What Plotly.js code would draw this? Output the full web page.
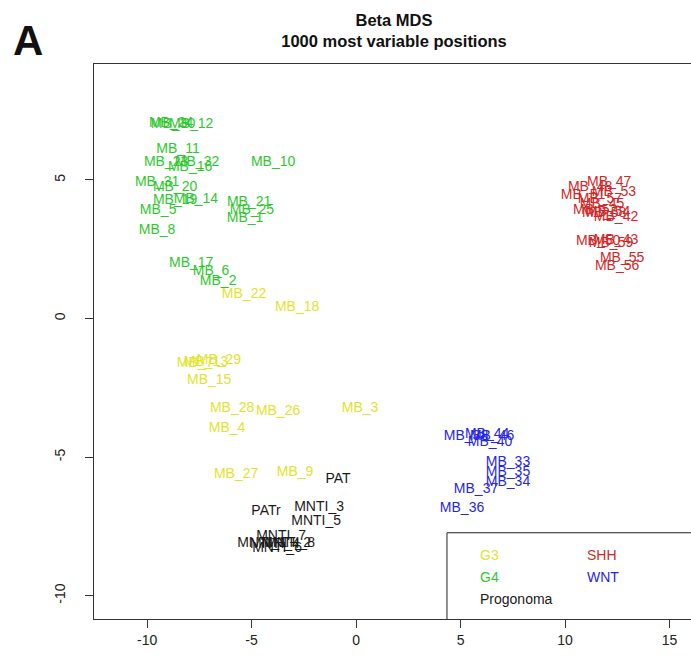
<!DOCTYPE html>
<html>
<head>
<meta charset="utf-8">
<script src="https://cdn.plot.ly/plotly-3.0.1.min.js"></script>
<style>
html, body { margin: 0; padding: 0; overflow: hidden; background: #fff; }
#chart { width: 700px; height: 655px; }
</style>
</head>
<body>
<div id="chart"></div>
<script>
// G4 (green)
const g4Labels = ["MB_24","MB_30","MB_12","MB_11","MB_23","MB_32","MB_16","MB_31","MB_20","MB_19","MB_14","MB_5","MB_8","MB_10","MB_21","MB_25","MB_1","MB_17","MB_6","MB_2"];
const g4X = [-8.85,-8.76,-7.89,-8.52,-9.09,-7.61,-7.94,-9.52,-8.66,-8.66,-7.66,-9.47,-9.52,-3.97,-5.12,-4.98,-5.31,-7.89,-6.94,-6.60];
const g4Y = [7.05,7.01,7.01,6.08,5.61,5.61,5.43,4.92,4.74,4.27,4.31,3.91,3.19,5.64,4.20,3.91,3.62,2.00,1.68,1.32];

// G3 (yellow)
const g3Labels = ["MB_22","MB_18","MB_7","MB_13","MB_29","MB_15","MB_28","MB_26","MB_3","MB_4","MB_27","MB_9"];
const g3X = [-5.36,-2.82,-7.70,-7.18,-6.56,-7.03,-5.93,-3.73,0.19,-6.17,-5.74,-2.92];
const g3Y = [0.85,0.41,-1.61,-1.57,-1.53,-2.25,-3.26,-3.37,-3.23,-3.98,-5.64,-5.54];

// Progonoma (black)
const progLabels = ["PAT","PATr","MNTI_3","MNTI_5","MNTI_7","MNTI_1","MNTI_2","MNTI_4","MNTI_8","MNTI_6"];
const progX = [-0.86,-4.31,-1.77,-1.91,-3.59,-4.50,-3.35,-3.88,-3.16,-3.78];
const progY = [-5.82,-6.98,-6.83,-7.34,-7.88,-8.10,-8.10,-8.17,-8.13,-8.31];

// WNT (blue)
const wntLabels = ["MB_38","MB_44","MB_46","MB_40","MB_33","MB_35","MB_34","MB_37","MB_36"];
const wntX = [5.26,6.27,6.51,6.41,7.27,7.27,7.27,5.74,5.07];
const wntY = [-4.24,-4.17,-4.24,-4.49,-5.21,-5.57,-5.93,-6.18,-6.87];

// SHH (red)
const shhLabels = ["MB_47","MB_48","MB_53","MB_51","MB_57","MB_45","MB_52","MB_54","MB_58","MB_42","MB_43","MB_50","MB_59","MB_55","MB_56"];
const shhX = [12.11,11.20,12.34,10.86,11.67,11.77,11.44,12.06,11.87,12.44,12.44,11.58,12.20,12.73,12.49];
const shhY = [4.92,4.74,4.56,4.42,4.31,4.13,3.91,3.84,3.77,3.66,2.83,2.76,2.72,2.18,1.86];

const xTicks = [-10,-5,0,5,10,15];
const yTicks = [-10,-5,0,5];

const FONT = "Liberation Sans, Arial, Helvetica, sans-serif";
const COL = {G3:"#E3E32A", G4:"#2EC82E", Prog:"#1a1a1a", WNT:"#2626E0", SHH:"#D02828"};

function tr(x, y, t, c) {
  return {x:x, y:y, text:t, mode:"text", type:"scatter", textposition:"middle center",
          textfont:{family:FONT, size:14, color:c}, hoverinfo:"text", showlegend:false};
}

const data = [
  tr(g4X, g4Y, g4Labels, COL.G4),
  tr(g3X, g3Y, g3Labels, COL.G3),
  tr(progX, progY, progLabels, COL.Prog),
  tr(wntX, wntY, wntLabels, COL.WNT),
  tr(shhX, shhY, shhLabels, COL.SHH)
];

const legendItems = [
  {t:"G3", c:COL.G3, x:5.84, y:-8.53},
  {t:"SHH", c:COL.SHH, x:10.96, y:-8.53},
  {t:"G4", c:COL.G4, x:5.84, y:-9.32},
  {t:"WNT", c:COL.WNT, x:10.96, y:-9.32},
  {t:"Progonoma", c:COL.Prog, x:5.84, y:-10.11}
];

const annotations = legendItems.map(d => ({
  x:d.x, y:d.y, xref:"x", yref:"y", text:d.t, showarrow:false,
  xanchor:"left", yanchor:"middle", font:{family:FONT, size:14, color:d.c}
}));
// panel letter
annotations.push({
  x:(28-94)/600, y:1+(64-41)/555, xref:"paper", yref:"paper",
  text:"<b>A</b>", showarrow:false, xanchor:"center", yanchor:"middle",
  font:{family:FONT, size:42, color:"#111"}
});

const layout = {
  width:700, height:655,
  margin:{l:94, r:6, t:64, b:36},
  paper_bgcolor:"#fff", plot_bgcolor:"#fff",
  font:{family:FONT, color:"#222"},
  title:{text:"<b>Beta MDS</b><br><b>1000 most variable positions</b>",
         font:{family:FONT, size:16.5, color:"#111"},
         x:0.5, xref:"paper", xanchor:"center",
         y:1-26/655, yref:"container", yanchor:"middle"},
  xaxis:{range:[-12.54,16.17], tickvals:xTicks, ticktext:xTicks.map(String),
         ticks:"outside", ticklen:8, tickcolor:"#333", tickwidth:1,
         showline:true, mirror:true, linecolor:"#333", linewidth:1,
         showgrid:false, zeroline:false,
         tickfont:{family:FONT, size:14, color:"#222"}},
  yaxis:{range:[-10.84,9.18], tickvals:yTicks, ticktext:yTicks.map(String),
         ticks:"outside", ticklen:8, tickcolor:"#333", tickwidth:1, tickangle:-90,
         ticklabelstandoff:14,
         showline:true, mirror:true, linecolor:"#333", linewidth:1,
         showgrid:false, zeroline:false,
         tickfont:{family:FONT, size:14, color:"#222"}},
  shapes:[{type:"rect", xref:"x", yref:"y", x0:4.35, x1:20, y0:-12, y1:-7.73,
           line:{color:"#222", width:1}, fillcolor:"rgba(0,0,0,0)", layer:"above"}],
  annotations:annotations,
  showlegend:false
};

Plotly.newPlot("chart", data, layout, {displayModeBar:false, staticPlot:true});
</script>
</body>
</html>
